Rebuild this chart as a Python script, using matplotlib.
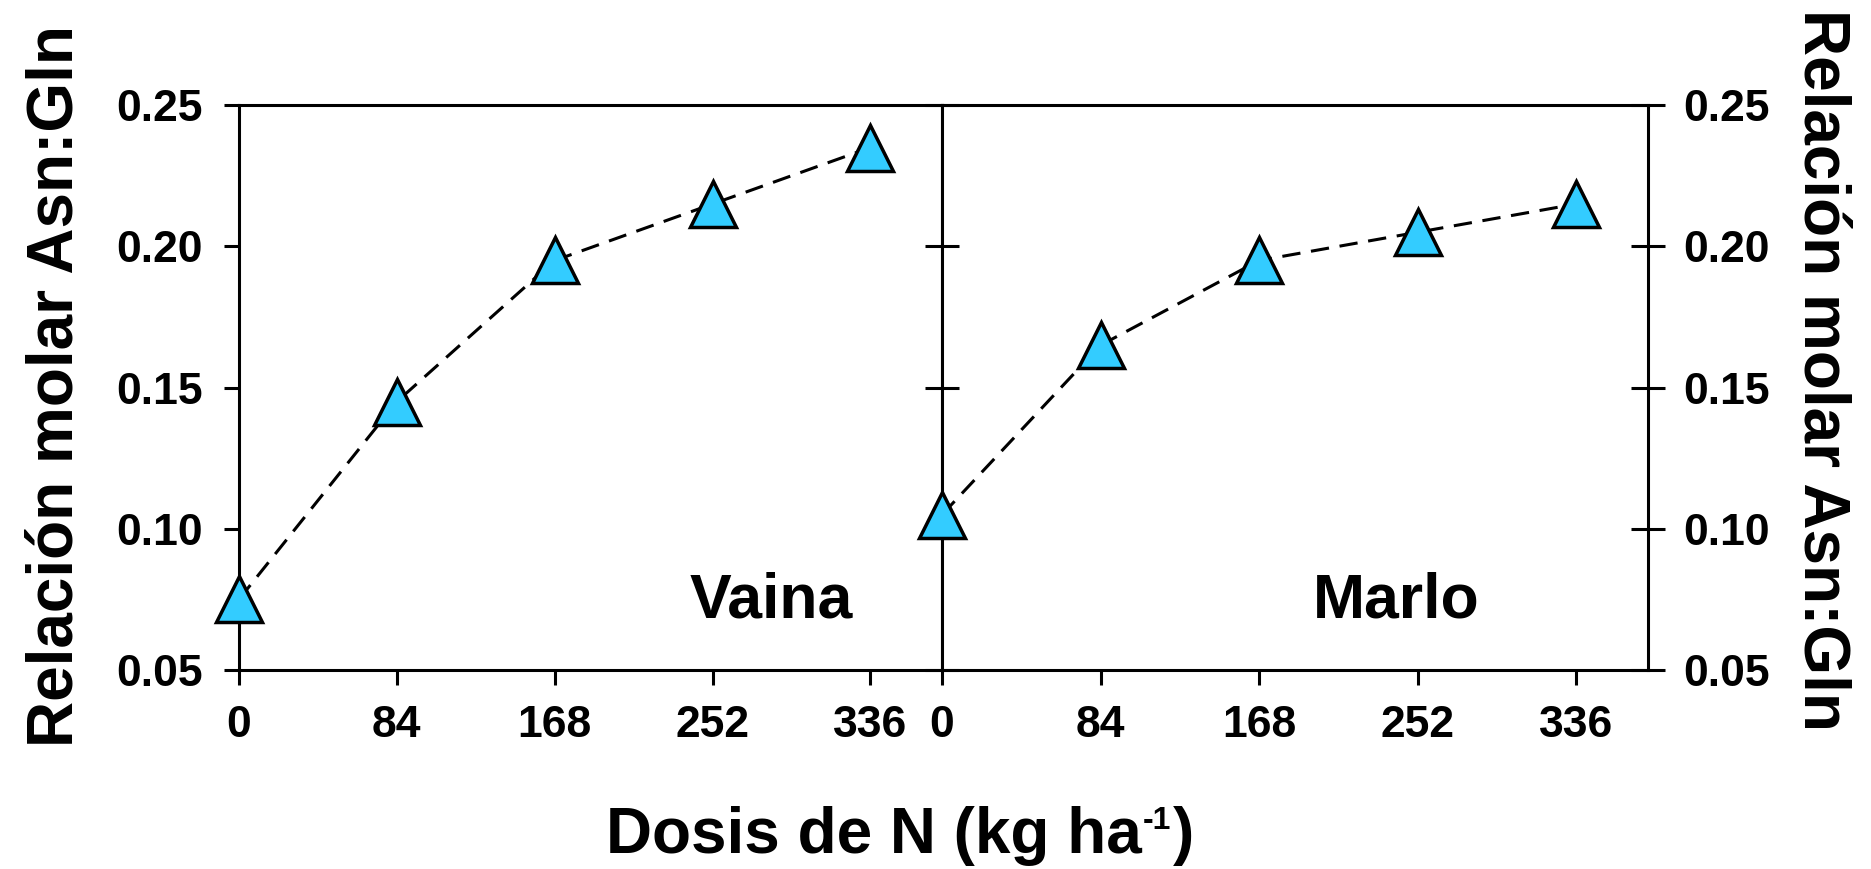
import matplotlib
matplotlib.use('Agg')
import matplotlib.pyplot as plt

# ---- data ----
doses = [0, 84, 168, 252, 336]
vaina = [0.075, 0.145, 0.195, 0.215, 0.235]
marlo = [0.105, 0.165, 0.195, 0.205, 0.215]
yticks = [0.05, 0.10, 0.15, 0.20, 0.25]
panel_names = ['Vaina', 'Marlo']
ylabel_text = 'Relación molar Asn:Gln'

plt.rcParams['font.family'] = ['Liberation Sans', 'DejaVu Sans']
plt.rcParams['font.weight'] = 'bold'

W, H, DPI = 18.71, 8.69, 100
fig = plt.figure(figsize=(W, H), dpi=DPI)
ax1 = fig.add_axes([0.1277, 0.229, 0.3757, 0.650])
ax2 = fig.add_axes([0.5035, 0.229, 0.3773, 0.650])

marker_color = '#33CCFF'
lw_axis = 2.2

for ax, vals, name, tx in [(ax1, vaina, panel_names[0], 0.6415),
                           (ax2, marlo, panel_names[1], 0.5255)]:
    ax.plot(doses, vals, linestyle=(0, (6, 3.5)), color='black', lw=2.2, zorder=3)
    ax.plot(doses, vals, linestyle='none', marker='^', markersize=33,
            markerfacecolor=marker_color, markeredgecolor='black',
            markeredgewidth=2.5, clip_on=False, zorder=5)
    ax.set_xlim(0, 374)
    ax.set_ylim(0.05, 0.25)
    ax.set_xticks(doses)
    ax.set_xticklabels([str(d) for d in doses])
    ax.set_yticks(yticks)
    ax.set_yticklabels([f'{v:.2f}' for v in yticks])
    for sp in ax.spines.values():
        sp.set_linewidth(lw_axis)
    ax.tick_params(axis='x', direction='out', length=11, width=lw_axis,
                   labelsize=32, pad=14)
    ax.text(tx, 0.0938, name, transform=ax.transAxes, fontsize=45,
            ha='left', va='baseline')

ax1.tick_params(axis='y', direction='out', length=11, width=lw_axis,
                labelsize=32, pad=15)
ax2.tick_params(axis='y', which='both', left=True, right=True,
                labelleft=False, labelright=True, direction='inout',
                length=25, width=lw_axis, labelsize=32, pad=13)

# y labels
fig.text(0.0297, 0.556, ylabel_text, rotation=90, ha='center', va='center',
         fontsize=46)
fig.text(0.9738, 0.574, ylabel_text, rotation=270, ha='center', va='center',
         fontsize=46)

# x label with superscript
base_y = 0.0184
t1 = fig.text(0.3239, base_y, 'Dosis de N (kg ha', fontsize=46,
              ha='left', va='baseline')
renderer = fig.canvas.get_renderer()
bb1 = t1.get_window_extent(renderer)
fig_w_px = W * DPI
fig_h_px = H * DPI
sup_x = (bb1.x1 + 1) / fig_w_px
sup_y = base_y + 24.0 / fig_h_px
t2 = fig.text(sup_x, sup_y, '-1', fontsize=23, ha='left', va='baseline')
bb2 = t2.get_window_extent(renderer)
fig.text((bb2.x1 + 2) / fig_w_px, base_y, ')', fontsize=46,
         ha='left', va='baseline')

fig.savefig('out.png', dpi=DPI)
